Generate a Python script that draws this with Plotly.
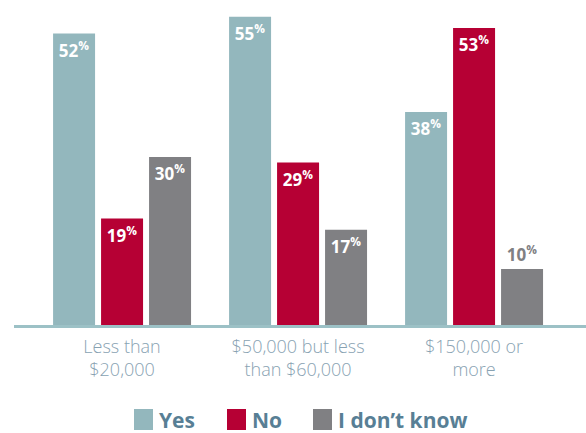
import plotly.graph_objects as go

# Survey answers by income bracket
categories = ["Less than<br>$20,000", "$50,000 but less<br>than $60,000", "$150,000 or<br>more"]
answers = ["Yes", "No", "I don’t know"]
yes_vals = [52, 55, 38]
no_vals = [19, 29, 53]
dont_know_vals = [30, 17, 10]

colors = {"Yes": "#93b7bd", "No": "#b60034", "I don’t know": "#808083"}
series = {"Yes": yes_vals, "No": no_vals, "I don’t know": dont_know_vals}

FONT = "Open Sans"
LEGEND_TEXT = "#587f95"
TICK_TEXT = "#88a2b2"

fig = go.Figure()
for name in answers:
    vals = series[name]
    # short bars carry their label above the bar
    positions = ["outside" if v < 12 else "inside" for v in vals]
    fig.add_trace(go.Bar(
        x=categories,
        y=vals,
        name=name,
        marker=dict(color=colors[name], line=dict(width=0)),
        texttemplate="<b>%{y}<sup>%</sup></b>",
        textposition=positions,
        insidetextanchor="end",
        textangle=0,
        insidetextfont=dict(family=FONT, size=17, color="white"),
        outsidetextfont=dict(family=FONT, size=17, color=colors[name]),
        cliponaxis=False,
        showlegend=False,
    ))

fig.update_layout(
    width=586,
    height=433,
    margin=dict(l=14, r=0, t=0, b=108),
    paper_bgcolor="white",
    plot_bgcolor="white",
    barmode="group",
    bargap=0.182,
    bargroupgap=0.125,
    uniformtext=dict(minsize=17, mode="show"),
    font=dict(family=FONT),
    xaxis=dict(
        range=[-0.614, 2.636],
        showline=True,
        linecolor="#9cc1c6",
        linewidth=3,
        showgrid=False,
        ticks="",
        tickfont=dict(family=FONT, size=18, color=TICK_TEXT, weight=300),
        ticklabelstandoff=3,
        fixedrange=True,
    ),
    yaxis=dict(
        range=[0, 58],
        visible=False,
        showgrid=False,
        zeroline=False,
        fixedrange=True,
    ),
)

# Legend drawn as large swatches with bold labels beneath the chart
legend_x = [134, 227, 313]
for name, x0 in zip(answers, legend_x):
    fig.add_shape(
        type="rect", xref="paper", yref="paper",
        x0=(x0 - 14) / 572, x1=(x0 + 19 - 14) / 572,
        y0=(325 - 430) / 325, y1=(325 - 409) / 325,
        fillcolor=colors[name], line=dict(width=0),
    )
    fig.add_annotation(
        xref="paper", yref="paper",
        x=(x0 + 23 - 14) / 572, y=(325 - 420) / 325,
        xanchor="left", yanchor="middle",
        text="<b>" + name + "</b>", showarrow=False,
        font=dict(family=FONT, size=21, color=LEGEND_TEXT),
    )

fig.write_html("out.html")
